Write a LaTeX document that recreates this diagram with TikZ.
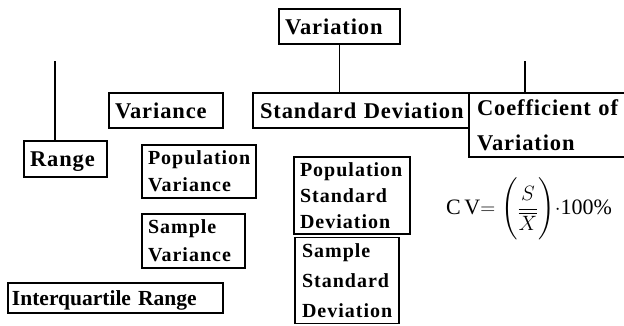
\documentclass[tikz,border=0pt]{standalone}
\usepackage{fontspec}
\usepackage{amsmath}
\setmainfont{Liberation Serif}
\newfontfamily\mainlab[LetterSpace=4]{Liberation Serif}
\newfontfamily\sublab[LetterSpace=5]{Liberation Serif}
\begin{document}
\begin{tikzpicture}[x=1pt,y=-1pt,
  box/.style={draw, line width=1.3pt, inner sep=0pt, align=left},
  bigtxt/.style={font=\mainlab\bfseries\fontsize{22.5}{#1}\selectfont},
  smalltxt/.style={font=\sublab\bfseries\fontsize{20}{#1}\selectfont},
  oneline/.style={text height=15pt, text depth=0pt},
  link/.style={line width=1.3pt}]
\useasboundingbox (0,0) rectangle (624,325);

% top of the hierarchy
\node[box, bigtxt=35, oneline, minimum width=121pt, minimum height=35pt, text width=109pt]
  (variation) at (339.5,26.5) {Variation};

% second level
\node[box, bigtxt=35, text height=15pt, text depth=-7pt,
  minimum width=114pt, minimum height=35pt, text width=102pt]
  (variance) at (166,110.5) {Variance};
\node[box, bigtxt=35, oneline, minimum width=216pt, minimum height=35pt, text width=202pt]
  (stddev) at (361,110.5) {Standard Deviation};
\node[box, bigtxt=35, minimum width=161pt, minimum height=64pt, text width=145pt]
  (coef) at (549.5,125) {Coefficient of\\Variation};
\node[box, bigtxt=35, oneline, minimum width=83pt, minimum height=36pt, text width=71pt]
  (range) at (65.5,159) {Range};

% variance family
\node[box, smalltxt=27, minimum width=114pt, minimum height=53pt, text width=102pt]
  (popvar) at (199,171.5) {Population\\Variance};
\node[box, smalltxt=28, minimum width=103pt, minimum height=54pt, text width=91pt]
  (sampvar) at (193.5,241) {Sample\\Variance};

% standard deviation family
\node[box, smalltxt=26, minimum width=116pt, minimum height=77pt, text width=104pt]
  (popsd) at (352,195.5) {Population\\Standard\\Deviation};
\node[box, smalltxt=30, minimum width=104pt, minimum height=86pt, text width=90pt]
  (sampsd) at (347,280.5) {Sample\\Standard\\Deviation};

% range family
\node[box, font=\mainlab\bfseries\fontsize{21.5}{30}\selectfont, oneline,
  minimum width=215pt, minimum height=30pt, text width=207pt]
  (iqr) at (115.5,298) {\addfontfeature{LetterSpace=0}Interquartile Range};

% formula for the coefficient of variation
\node[font=\fontsize{22}{26}\selectfont, inner sep=0pt] (cvformula) at (529,209)
  {C\,V$=\Biggl(\dfrac{S}{\overline{X}}\Biggr)\cdot$100\%};

% connectors
\coordinate (rangetop) at (55,61);
\coordinate (coeftop) at (525,61);
\draw[link] (variation.south) -- (variation.south |- stddev.north);
\draw[link] (rangetop) -- (rangetop |- range.north);
\draw[link] (coeftop) -- (coeftop |- coef.north);
\end{tikzpicture}
\end{document}
